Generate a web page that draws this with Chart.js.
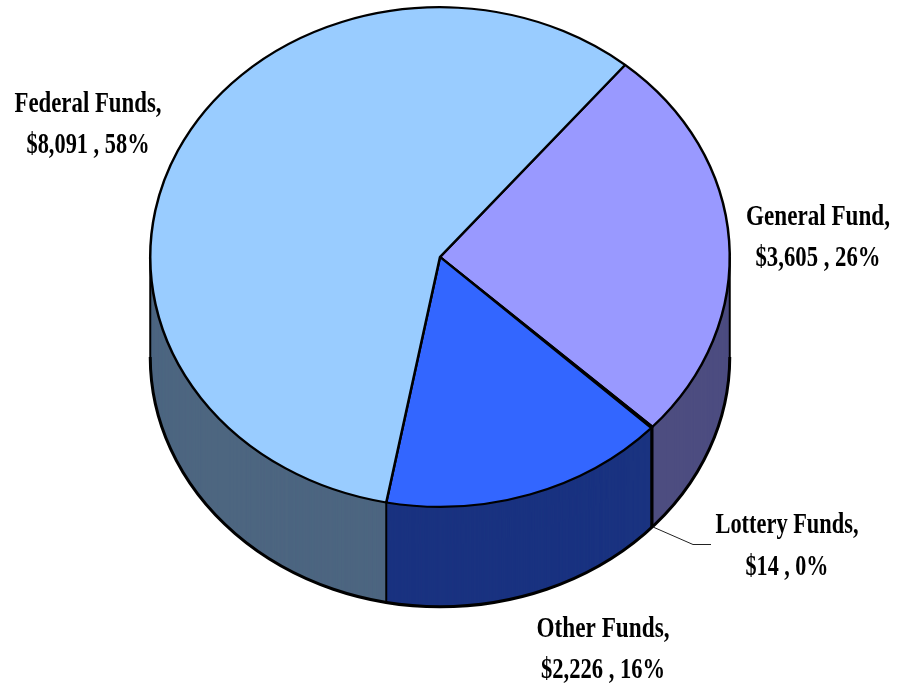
<!DOCTYPE html>
<html>
<head>
<meta charset="utf-8">
<script src="https://cdn.jsdelivr.net/npm/chart.js"></script>
<style>
  html, body { margin: 0; padding: 0; background: #fff; }
  canvas { display: block; }
</style>
</head>
<body>
<canvas id="funds" width="905" height="685"></canvas>
<script>
// clockwise from the top right
var fundNames = ['General Fund', 'Lottery Funds', 'Other Funds', 'Federal Funds'];
var fundValues = [3605, 14, 2226, 8091];
var fundPercents = [26, 0, 16, 58];
var topColors = ['#9999FF', '#000080', '#3366FF', '#99CCFF'];
var wallColors = ['#4D4D80', '#000040', '#1A3380', '#4D6680'];

// label placement: centre x, two baselines, two line widths
var labelSpots = [
  [818, 225, 266, 144, 125],
  [787, 533, 575, 143, 83],
  [603, 637, 678, 133, 124],
  [88, 112, 153, 147, 123]
];

var squash = 250 / 290;
var centerY = 257;
var depth = 100;

function money(v) {
  return '$' + v.toLocaleString('en-US');
}

function tilt(ctx, cy) {
  ctx.translate(0, centerY);
  ctx.scale(1, squash);
  ctx.translate(0, -cy);
}

var pie3d = {
  id: 'pie3d',
  beforeDatasetsDraw: function (chart) {
    var ctx = chart.ctx;
    var arcs = chart.getDatasetMeta(0).data;
    var cx = arcs[0].x, cy = arcs[0].y, r = arcs[0].outerRadius;

    // wall: stack the same slices in the dark colours, bottom layer first
    for (var d = depth; d > 0; d -= 0.5) {
      ctx.save();
      ctx.translate(0, d);
      tilt(ctx, cy);
      arcs.forEach(function (arc, i) {
        var keep = arc.options;
        arc.options = Object.assign({}, keep, { backgroundColor: wallColors[i], borderWidth: 0 });
        arc.draw(ctx);
        arc.options = keep;
      });
      ctx.restore();
    }

    // wall outline
    ctx.save();
    ctx.translate(0, depth);
    tilt(ctx, cy);
    ctx.beginPath();
    ctx.arc(cx, cy, r, 0, Math.PI);
    ctx.restore();
    ctx.save();
    ctx.strokeStyle = '#000';
    ctx.lineWidth = 3;
    ctx.stroke();
    ctx.lineWidth = 2;
    [0, Math.PI].concat(arcs.map(function (a) { return a.startAngle; })).forEach(function (ang) {
      var s = Math.sin(ang);
      if (s < -0.001) return;
      var x = cx + r * Math.cos(ang);
      var y = centerY + r * squash * s;
      ctx.beginPath();
      ctx.moveTo(x, y);
      ctx.lineTo(x, y + depth);
      ctx.stroke();
    });
    ctx.restore();

    // the top is drawn by the chart itself, tilted the same way
    ctx.save();
    tilt(ctx, cy);
  },
  afterDatasetsDraw: function (chart) {
    var ctx = chart.ctx;
    ctx.restore();

    // leader for the lottery slice
    ctx.save();
    ctx.strokeStyle = '#222';
    ctx.lineWidth = 1;
    ctx.beginPath();
    ctx.moveTo(653, 527);
    ctx.lineTo(693, 544.5);
    ctx.lineTo(711, 544.5);
    ctx.stroke();
    ctx.restore();

    ctx.save();
    ctx.fillStyle = '#000';
    ctx.font = 'bold 30px "Liberation Serif"';
    ctx.textAlign = 'left';
    fundNames.forEach(function (name, i) {
      var spot = labelSpots[i];
      fitText(ctx, name + ',', spot[0], spot[1], spot[3]);
      fitText(ctx, money(fundValues[i]) + ' , ' + fundPercents[i] + '%', spot[0], spot[2], spot[4]);
    });
    ctx.restore();
  }
};

// the original labels are narrow, squeeze each line to its width
function fitText(ctx, text, x, y, w) {
  var k = w / ctx.measureText(text).width;
  ctx.save();
  ctx.translate(x - w / 2, y);
  ctx.scale(k, 1);
  ctx.fillText(text, 0, 0);
  ctx.restore();
}

new Chart('funds', {
  type: 'pie',
  data: {
    labels: fundNames,
    datasets: [{
      data: fundValues,
      backgroundColor: topColors,
      borderColor: '#000',
      borderWidth: 2.5,
      clip: false
    }]
  },
  options: {
    responsive: false,
    animation: false,
    rotation: 39.7,
    layout: { padding: { left: 149, right: 174, top: 0, bottom: 103 } },
    plugins: { legend: { display: false }, tooltip: { enabled: false } },
    events: []
  },
  plugins: [pie3d]
});
</script>
</body>
</html>
